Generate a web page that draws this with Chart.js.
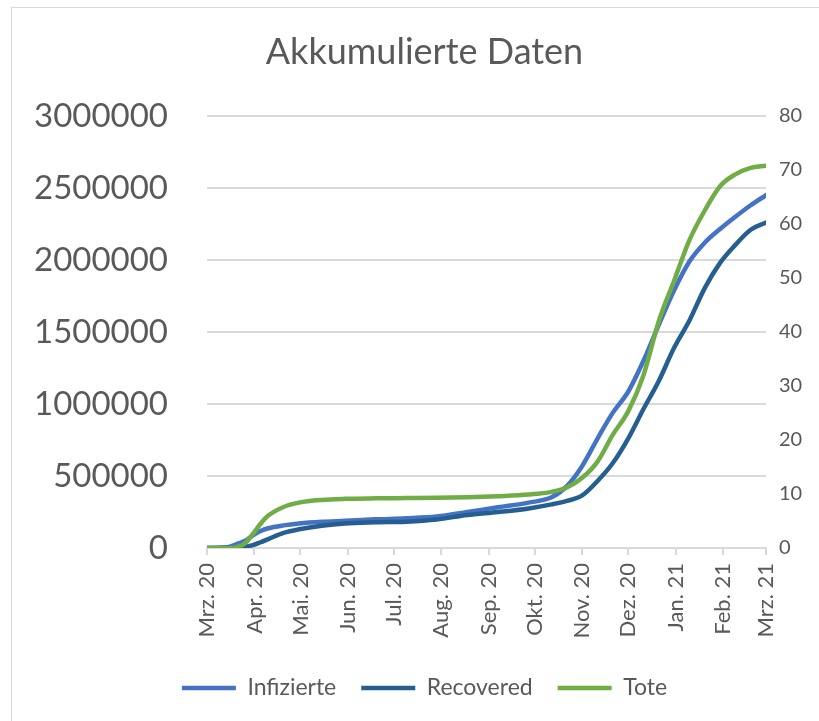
<!DOCTYPE html>
<html>
<head>
<meta charset="utf-8">
<script src="https://cdn.jsdelivr.net/npm/chart.js@4"></script>
<style>
  html, body { margin: 0; padding: 0; background: #fff; overflow: hidden; }
  #frame { position: absolute; left: 11px; top: 7px; width: 900px; height: 800px; border: 1px solid #D9D9D9; box-sizing: border-box; }
  #wrap { position: absolute; left: 0; top: 0; width: 819px; height: 721px; }
</style>
</head>
<body>
<div id="frame"></div>
<div id="wrap"><canvas id="chart"></canvas></div>
<script>
// sample dates
const dates = [
  '2020-03-01', '2020-03-11', '2020-03-16', '2020-03-21', '2020-03-26', '2020-03-31',
  '2020-04-05', '2020-04-10', '2020-04-20', '2020-04-30', '2020-05-15', '2020-05-30',
  '2020-06-19', '2020-07-09', '2020-07-29', '2020-08-18', '2020-09-07', '2020-09-27',
  '2020-10-12', '2020-10-22', '2020-11-01', '2020-11-11', '2020-11-21', '2020-12-01',
  '2020-12-11', '2020-12-21', '2020-12-31', '2021-01-10', '2021-01-20', '2021-01-30',
  '2021-02-09', '2021-02-19', '2021-03-01'
];

const infizierte = [
  0, 3000, 10000, 30000, 50000, 88000,
  118000, 137000, 157000, 170000, 182000, 189000,
  199000, 206000, 218000, 250000, 283000, 315000,
  352000, 430000, 570000, 760000, 940000, 1085000,
  1300000, 1550000, 1790000, 1990000, 2120000, 2215000,
  2300000, 2380000, 2450000
];

const recovered = [
  0, 0, 0, 1000, 8000, 20000,
  40000, 62000, 105000, 130000, 155000, 170000,
  178000, 183000, 198000, 229000, 250000, 275000,
  303000, 327000, 365000, 465000, 590000, 760000,
  965000, 1160000, 1390000, 1580000, 1805000, 1980000,
  2105000, 2210000, 2260000
];

// right axis (thousands)
const tote = [
  0, 0, 0, 0.2, 0.9, 2.6,
  4.5, 6.0, 7.6, 8.4, 8.9, 9.1,
  9.2, 9.25, 9.3, 9.4, 9.6, 9.9,
  10.4, 11.2, 13.0, 16.0, 21.0, 25.3,
  32.0, 42.0, 49.5, 57.0, 62.5, 67.0,
  69.2, 70.4, 70.8
];

const monthTicks = [
  '2020-03-01', '2020-04-01', '2020-05-01', '2020-06-01', '2020-07-01', '2020-08-01',
  '2020-09-01', '2020-10-01', '2020-11-01', '2020-12-01', '2021-01-01', '2021-02-01', '2021-03-01'
];
const monthLabels = [
  'Mrz. 20', 'Apr. 20', 'Mai. 20', 'Jun. 20', 'Jul. 20', 'Aug. 20',
  'Sep. 20', 'Okt. 20', 'Nov. 20', 'Dez. 20', 'Jan. 21', 'Feb. 21', 'Mrz. 21'
];

const start = Date.UTC(2020, 2, 1);
function dayOf(s) {
  const [y, m, d] = s.split('-').map(Number);
  return (Date.UTC(y, m - 1, d) - start) / 86400000;
}
const days = dates.map(dayOf);
const tickDays = monthTicks.map(dayOf);
const pts = arr => arr.map((v, i) => ({ x: days[i], y: v }));

const grey = '#595959';
const gridCol = '#D9D9D9';

Chart.defaults.font.family = 'Lato';
Chart.defaults.color = grey;

const lineStyle = {
  borderWidth: 4.5,
  pointRadius: 0,
  pointHoverRadius: 0,
  cubicInterpolationMode: 'monotone',
  borderCapStyle: 'round',
  borderJoinStyle: 'round',
  pointStyle: 'line'
};

new Chart(document.getElementById('chart'), {
  type: 'line',
  data: {
    datasets: [
      { label: 'Infizierte', data: pts(infizierte), borderColor: '#4472C4', backgroundColor: '#4472C4', yAxisID: 'y', order: 2, ...lineStyle },
      { label: 'Recovered', data: pts(recovered), borderColor: '#255E91', backgroundColor: '#255E91', yAxisID: 'y', order: 1, ...lineStyle },
      { label: 'Tote', data: pts(tote), borderColor: '#70AD47', backgroundColor: '#70AD47', yAxisID: 'y1', order: 0, ...lineStyle }
    ]
  },
  options: {
    responsive: true,
    maintainAspectRatio: false,
    animation: false,
    layout: { padding: { left: 30, right: 0, top: 0, bottom: 11.5 } },
    scales: {
      x: {
        type: 'linear',
        min: 0,
        max: 365,
        afterBuildTicks: s => { s.ticks = tickDays.map(v => ({ value: v })); },
        afterFit: s => { s.height = 103.5; },
        ticks: {
          autoSkip: false,
          minRotation: 90,
          maxRotation: 90,
          padding: 8,
          font: { size: 22 },
          callback: (v, i) => monthLabels[i]
        },
        grid: { drawOnChartArea: false, drawTicks: true, tickLength: 7, color: gridCol, lineWidth: 2 },
        border: { color: gridCol, width: 2 }
      },
      y: {
        position: 'left',
        min: 0,
        max: 3000000,
        afterFit: s => { s.width = 177; },
        ticks: { stepSize: 500000, padding: 39, font: { size: 33 }, callback: v => String(v) },
        grid: { color: gridCol, lineWidth: 2, drawTicks: false },
        border: { display: false }
      },
      y1: {
        position: 'right',
        min: 0,
        max: 80,
        afterFit: s => { s.width = 53; },
        ticks: { stepSize: 10, padding: 13, font: { size: 20 }, callback: v => String(v) },
        grid: { display: false, drawTicks: false },
        border: { display: false }
      }
    },
    plugins: {
      title: {
        display: true,
        text: 'Akkumulierte Daten',
        color: grey,
        font: { size: 36, weight: 'normal' },
        padding: { top: 30.6, bottom: 42.2 }
      },
      legend: {
        position: 'bottom',
        labels: {
          usePointStyle: true,
          pointStyleWidth: 54,
          padding: 25,
          color: grey,
          font: { size: 23 },
          sort: (a, b) => a.datasetIndex - b.datasetIndex
        }
      },
      tooltip: { enabled: false }
    }
  }
});
</script>
</body>
</html>
